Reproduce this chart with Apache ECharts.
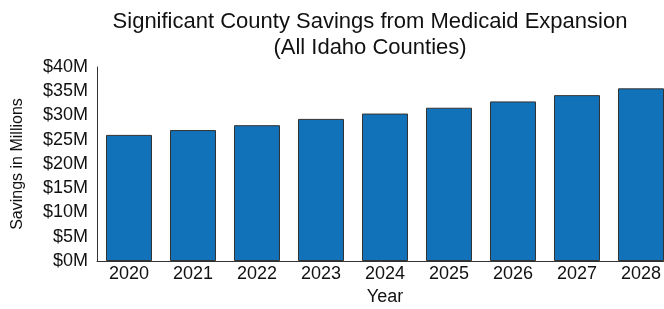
<!DOCTYPE html>
<html>
<head>
<meta charset="utf-8">
<script src="https://cdn.jsdelivr.net/npm/echarts@6/dist/echarts.min.js"></script>
<style>
  html, body { margin: 0; padding: 0; background: #fff; }
  #chart { width: 664px; height: 309px; }
</style>
</head>
<body>
<div id="chart"></div>
<script>
// 数据
const years = ['2020', '2021', '2022', '2023', '2024', '2025', '2026', '2027', '2028'];
const savings = [26.0, 27.0, 28.0, 29.3, 30.4, 31.6, 32.9, 34.2, 35.6];
const yTicks = { min: 0, max: 40, step: 5 };

const font = '"Liberation Sans", Arial, Helvetica, sans-serif';

const myChart = echarts.init(document.getElementById('chart'));

const option = {
    animation: false,
    title: {
        text: 'Significant County Savings from Medicaid Expansion\n(All Idaho Counties)',
        left: 365,
        top: 4,
        textAlign: 'center',
        textStyle: {
            fontFamily: font,
            fontSize: 22,
            fontWeight: 'normal',
            color: '#111',
            lineHeight: 26
        }
    },
    grid: {
        left: 97,
        top: 67,
        bottom: 48,
        right: -9,
        outerBoundsMode: 'none'
    },
    xAxis: {
        type: 'category',
        data: years,
        name: 'Year',
        nameLocation: 'middle',
        nameGap: 27,
        nameTextStyle: { fontFamily: font, fontSize: 18, color: '#111' },
        axisLine: { lineStyle: { color: '#333', width: 1 } },
        axisTick: { show: false },
        axisLabel: { fontFamily: font, fontSize: 18, color: '#111', margin: 4 }
    },
    yAxis: {
        type: 'value',
        min: yTicks.min,
        max: yTicks.max,
        interval: yTicks.step,
        name: 'Savings in Millions',
        nameLocation: 'middle',
        nameGap: 71,
        nameTextStyle: { fontFamily: font, fontSize: 16, color: '#111' },
        axisLine: { show: true, lineStyle: { color: '#333', width: 1 } },
        axisTick: { show: false },
        splitLine: { show: false },
        axisLabel: {
            fontFamily: font,
            fontSize: 18,
            color: '#111',
            margin: 9,
            formatter: v => '$' + v + 'M'
        }
    },
    series: [
        {
            type: 'bar',
            data: savings,
            barWidth: 46,
            itemStyle: {
                color: '#1172b9',
                borderColor: '#333',
                borderWidth: 1
            }
        }
    ]
};

myChart.setOption(option);
</script>
</body>
</html>
